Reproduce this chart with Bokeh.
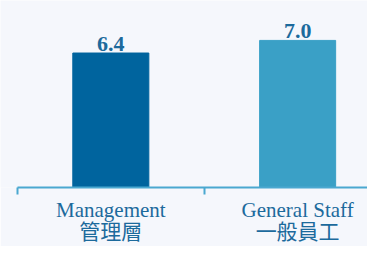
from bokeh.plotting import figure
from bokeh.models import ColumnDataSource, Range1d, FixedTicker
from bokeh.embed import file_html
from bokeh.resources import INLINE
from bokeh.core.properties import value

# Data
categories = ["Management\n管理層", "General Staff\n一般員工"]
values = [6.4, 7.0]
value_labels = ["6.4", "7.0"]
bar_colors = ["#00649e", "#3aa0c6"]

positions = [i + 0.5 for i in range(len(categories))]
boundaries = list(range(len(categories) + 1))

src = ColumnDataSource(dict(x=positions, top=values, label=value_labels, color=bar_colors))

BG = "#f5f7fc"
TXT = "#1c6a9c"

p = figure(width=367, height=246, output_backend="svg", toolbar_location=None,
           x_range=Range1d(-0.0905, 1.874), y_range=Range1d(0, 8.9),
           min_border_left=0, min_border_right=0, min_border_top=0, min_border_bottom=40)
p.background_fill_color = BG
p.border_fill_color = BG
p.outline_line_color = None
p.grid.visible = False
p.yaxis.visible = False

p.vbar(x="x", top="top", width=0.407, bottom=0, color="color", source=src)
p.text(x="x", y="top", text="label", source=src, text_align="center", text_baseline="bottom",
       y_offset=-2, text_font=value("Liberation Serif"), text_font_style="bold",
       text_font_size="22px", text_color=TXT)

ax = p.xaxis[0]
ax.ticker = FixedTicker(ticks=positions, minor_ticks=boundaries)
ax.major_label_overrides = {pos: lab for pos, lab in zip(positions, categories)}
ax.bounds = (0, len(categories))
ax.axis_line_color = "#4aa8d0"
ax.axis_line_width = 2
ax.major_tick_line_color = None
ax.major_tick_out = 0
ax.major_tick_in = 0
ax.minor_tick_line_color = "#4aa8d0"
ax.minor_tick_line_width = 2
ax.minor_tick_out = 7
ax.minor_tick_in = 0
ax.major_label_standoff = 3
ax.major_label_text_font = "Liberation Serif, Noto Sans CJK TC"
ax.major_label_text_font_size = "21px"
ax.major_label_text_color = TXT
ax.major_label_text_line_height = 0.92

open("out.html", "w").write(file_html(p, INLINE))
